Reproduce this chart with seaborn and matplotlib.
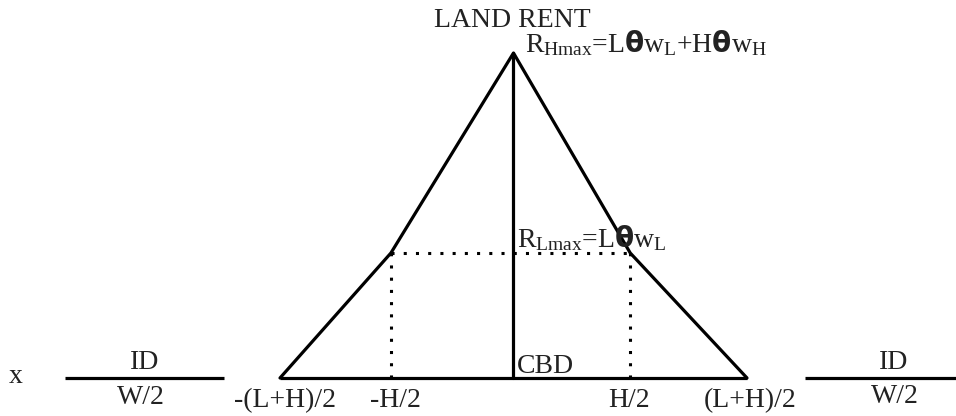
import matplotlib
matplotlib.use('Agg')
import matplotlib.pyplot as plt
import seaborn as sns
import pandas as pd

# rent profile (x in units of the H/2 ring, y in units of R_Lmax)
profile_x = [-2.0, -1.05, 0.0, 1.0, 2.0]
profile_y = [0.0, 1.0, 2.6, 1.0, 0.0]
r_lmax = 1.0
r_hmax = 2.6
city_edge = [-2.0, 2.0]
high_ring = [-1.05, 1.0]
id_left = [-3.84, -2.48]
id_right = [2.50, 4.05]

tick_pos = [-1.96, -1.01, 0.99, 2.03]
tick_labels = ['-(L+H)/2', '-H/2', 'H/2', '(L+H)/2']

sns.set_style('white')
plt.rcParams['font.family'] = ['Liberation Serif', 'DejaVu Serif']
plt.rcParams['mathtext.fontset'] = 'custom'
plt.rcParams['mathtext.rm'] = 'Liberation Serif'
plt.rcParams['mathtext.it'] = 'Liberation Serif:italic'
plt.rcParams['mathtext.sf'] = 'DejaVu Sans:bold'

fig = plt.figure(figsize=(9.56, 4.16), dpi=100)
ax = fig.add_axes([0, 0, 1, 1])
ax.set_xlim(-513.5 / 116.75, (956 - 513.5) / 116.75)
ax.set_ylim(-38 / 125, 378 / 125)
ax.axis('off')

lw = 2.3
df = pd.DataFrame({'x': profile_x, 'y': profile_y})
sns.lineplot(data=df, x='x', y='y', sort=False, color='black', lw=lw, ax=ax)

# baseline, CBD axis and the intercity stretches
ax.plot(city_edge, [0, 0], color='black', lw=lw, solid_capstyle='butt')
ax.plot([0, 0], [0, r_hmax], color='black', lw=lw)
ax.plot(id_left, [0, 0], color='black', lw=lw, solid_capstyle='butt')
ax.plot(id_right, [0, 0], color='black', lw=lw, solid_capstyle='butt')

# dotted guides for the high-skill ring
dots = dict(color='black', lw=2.2, linestyle=(0, (1, 3)))
ax.plot(high_ring, [r_lmax, r_lmax], **dots)
for hx in high_ring:
    ax.plot([hx, hx], [0, r_lmax], **dots)

fs = 20
tc = '#222222'
for xp, lab in zip(tick_pos, tick_labels):
    ax.text(xp, -0.232, lab, ha='center', va='baseline', fontsize=fs, color=tc)

ax.text(-3.16, 0.072, 'ID', ha='center', va='baseline', fontsize=fs, color=tc)
ax.text(-3.19, -0.21, 'W/2', ha='center', va='baseline', fontsize=fs, color=tc)
ax.text(3.26, 0.072, 'ID', ha='center', va='baseline', fontsize=fs, color=tc)
ax.text(3.27, -0.20, 'W/2', ha='center', va='baseline', fontsize=fs, color=tc)
ax.text(-4.26, -0.04, 'x', ha='center', va='baseline', fontsize=fs, color=tc)
ax.text(0.03, 0.04, 'CBD', ha='left', va='baseline', fontsize=fs, color=tc)
ax.text(-0.01, 2.808, 'LAND RENT', ha='center', va='baseline', fontsize=fs, color=tc)
ax.text(0.10, 2.608,
        r'R$_{\mathrm{Hmax}}$=L$\mathsf{\theta}$w$_{\mathrm{L}}$+H$\mathsf{\theta}$w$_{\mathrm{H}}$',
        ha='left', va='baseline', fontsize=fs, color=tc)
ax.text(0.03, 1.048, r'R$_{\mathrm{Lmax}}$=L$\mathsf{\theta}$w$_{\mathrm{L}}$',
        ha='left', va='baseline', fontsize=fs, color=tc)

fig.savefig('out.png', dpi=100)
plt.close(fig)
